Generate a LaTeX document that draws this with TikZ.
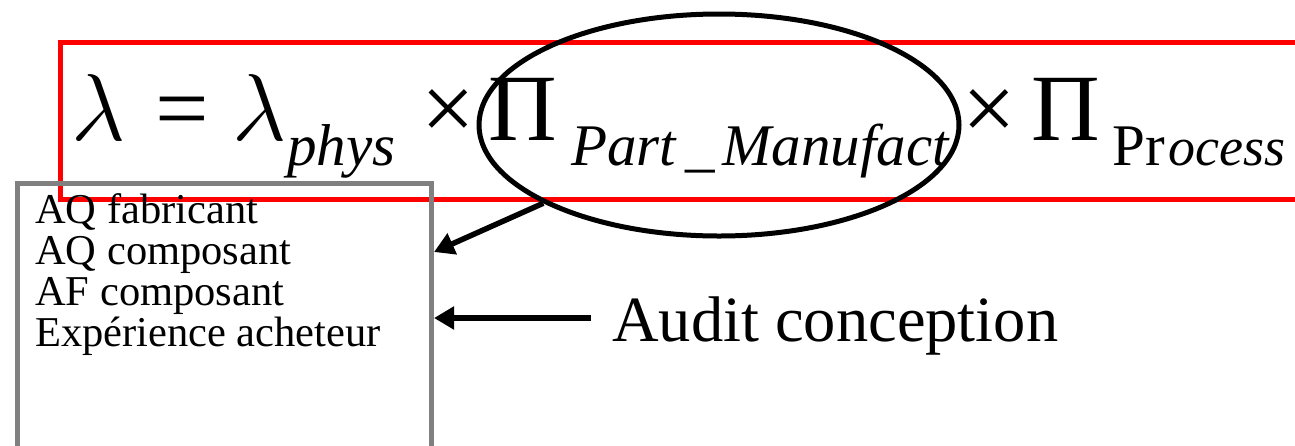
\RequirePackage{fix-cm}
\documentclass[tikz,border=0pt]{standalone}
\usepackage{fontspec}
\setmainfont{Liberation Serif}
\usetikzlibrary{arrows.meta, shapes.geometric}

\begin{document}
\begin{tikzpicture} [x = 1pt, y = -1pt,
    grand/.style = {inner sep = 0, anchor = base west, font = \fontsize{95}{95}\selectfont},
    indice/.style = {inner sep = 0, anchor = base west, font = \fontsize{59}{59}\selectfont},
    fleche/.style = {-{Triangle[length = 20pt, width = 22pt]}, line width = 5.5pt}]

\useasboundingbox (0,0) rectangle (1295,445);

% formule
\draw [red, line width = 5pt] (60.5,42) rectangle (1320,199);

\node (lam1) [grand] at (71,140) {$\lambda$};
\node (eg) [grand] at (155,140) {=};
\node (lam2) [grand] at (232,140) {$\lambda$};
\node (phys) [indice] at (287,165) {\itshape phys};
\node (x1) [grand] at (421,140) {×};
\node (pi1) [grand] at (488,140) {Π};
\node (part) [indice] at (571,165) {\itshape Part\kern9pt\_\kern8pt Manufact};
\node (x2) [grand] at (962,140) {×};
\node (pi2) [grand] at (1031,140) {Π};
\node (proc) [indice] at (1112,165) {Pr\kern4pt{\fontsize{54}{54}\selectfont\itshape ocess}};

\node (ell) [ellipse, draw, line width = 5pt, minimum width = 480, minimum height = 222] at (719,125) {};

% liste
\node (cadre) [draw = gray, line width = 5.5pt, minimum width = 414, minimum height = 300,
    anchor = north west, inner sep = 0] at (14.5,180.5) {};
\node (liste) [anchor = north west, inner sep = 0, align = left,
    font = \fontsize{42.5}{41}\selectfont] at (35,193)
    {AQ fabricant\\AQ composant\\AF composant\\Expérience acheteur};

\node (audit) [inner sep = 0, anchor = base west, font = \fontsize{64.5}{65}\selectfont]
    at (612,341) {Audit conception};

\coordinate (cible) at (cadre.east |- 0,252);
\coordinate (depart) at ([shift = {(-21,-23)}] audit.base west);

\draw [fleche] (ell.204) -- (cible);
\draw [fleche] (depart) -- (depart -| cadre.east);
\end{tikzpicture}
\end{document}
